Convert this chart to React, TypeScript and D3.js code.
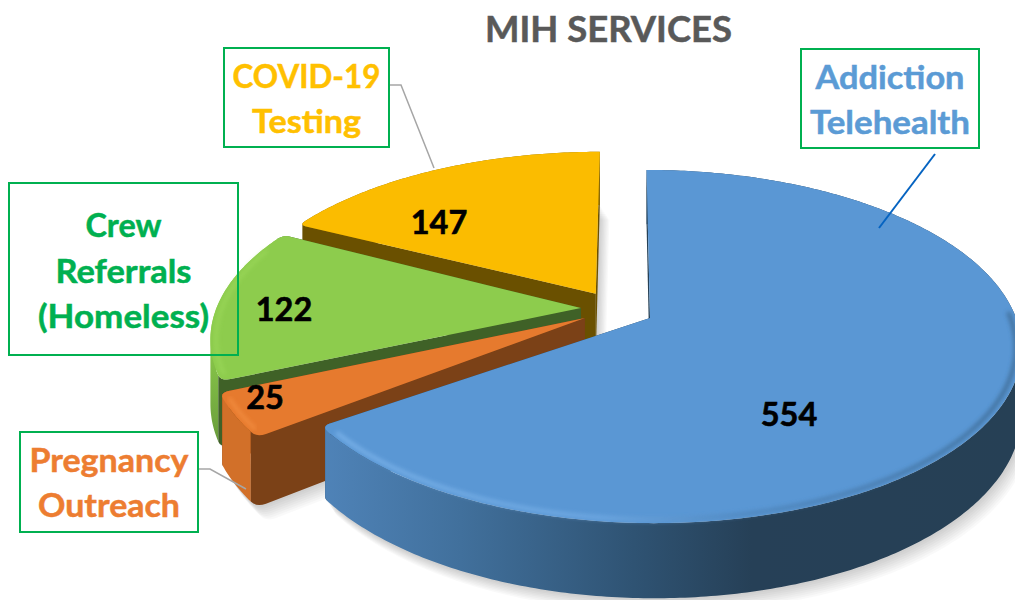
// App.tsx - exploded 3D pie, MIH services
import React from 'react';
import * as d3 from 'd3';

const categories = ['Addiction Telehealth', 'Pregnancy Outreach', 'Crew Referrals (Homeless)', 'COVID-19 Testing'];
const values = [554, 25, 122, 147];
const topColors = ['#5a97d4', '#e67a2e', '#8dcc4d', '#fbbc00'];
const sideColors = ['#264055', '#7b4117', '#3f6127', '#6a5000'];

// how far each slice is pulled out, in disk units (x, depth), and its radius
const explode = [[0, 0], [-0.178, 0], [-0.19, 0.058], [-0.15, 0.145]];
const radii = [1, 1.01, 1.005, 1.0];
// perspective widens some slices a little, degrees added at each side
const anglePad = [[0, 0], [3.3, 0.5], [-0.5, 0], [1, 0]];

const labelLines = [['Addiction', 'Telehealth'], ['Pregnancy', 'Outreach'], ['Crew', 'Referrals', '(Homeless)'], ['COVID-19', 'Testing']];
const labelWidths = [[149, 160], [159, 142], [76, 136, 171], [148, 109]];
const labelColors = ['#5b9bd5', '#ed7d31', '#00b050', '#ffc000'];
const labelBoxes = [[801, 49, 178, 99], [20, 432, 178, 100], [9, 183, 229, 172], [224, 48, 165, 99]];
const labelBaselines = [[89, 134], [472, 517], [237, 283, 328], [88, 133]];
const valuePos = [[789, 414], [265, 397], [284, 309], [439, 222]];
const leaders = [
  { pts: [[935, 154], [879, 228]], color: '#0563c1', w: 2 },
  { pts: [[198, 469], [210, 469], [246, 489]], color: '#a6a6a6', w: 1.5 },
  { pts: [[389, 85], [401, 85], [434, 168]], color: '#a6a6a6', w: 1.5 },
];

const width = 1015;
const height = 600;

// perspective of the disk
const cx = 650;
const cy = 318;
const rx = 366;
const ry = 172;
const persp = 0.1615;
const skew = -4;
const depth = 63;

type Pt = [number, number];

const project = (u: number, v: number, level: number): Pt => {
  const d = 1 + persp * v;
  return [cx + (rx * u + skew * v) / d, cy - (ry * v) / d + (level * depth) / d];
};

const quad = (a: Pt, c: Pt, b: Pt): Pt[] =>
  d3.range(0, 1.001, 0.2).map((t) => [
    (1 - t) * (1 - t) * a[0] + 2 * t * (1 - t) * c[0] + t * t * b[0],
    (1 - t) * (1 - t) * a[1] + 2 * t * (1 - t) * c[1] + t * t * b[1],
  ] as Pt);

const lineGen = d3.line<Pt>();
const closed = (pts: Pt[]) => lineGen(pts) + 'Z';
const deg = (d: number) => (d * Math.PI) / 180;

const pie = d3.pie<number>().sort(null).startAngle(0).endAngle(2 * Math.PI);
const arcs = pie(values);

const outline = (i: number, level: number) => {
  const a0 = arcs[i].startAngle - deg(anglePad[i][0]);
  const a1 = arcs[i].endAngle + deg(anglePad[i][1]);
  const [ox, oy] = explode[i];
  const R = radii[i];
  const at = (a: number, r: number) => project(ox + R * r * Math.sin(a), oy + R * r * Math.cos(a), level);
  const d = deg(1.8);
  const sharp0 = a0 < 0.001;
  const sharp1 = a1 > 2 * Math.PI - 0.001;
  const first = sharp0 ? a0 : a0 + d;
  const last = sharp1 ? a1 : a1 - d;
  const cornerA = sharp0 ? [at(a0, 1)] : quad(at(a0, 0.975), at(a0, 1), at(first, 1));
  const cornerB = sharp1 ? [at(a1, 1)] : quad(at(last, 1), at(a1, 1), at(a1, 0.975));
  const arc = [...d3.range(first, last, 0.012), last].map((a) => at(a, 1));
  return { apex: at(a0, 0), cornerA, arc, cornerB };
};

// side wall swept between the top and the bottom outline, one positively wound quad per segment
const wall = (top: Pt[], bottom: Pt[]) =>
  d3.range(top.length - 1).map((k) => {
    const q = [top[k], top[k + 1], bottom[k + 1], bottom[k]] as Pt[];
    return closed(d3.polygonArea(q) < 0 ? q.reverse() : q);
  }).join('');

// soft rim along the front of a slice
const rimPath = (i: number, from: number, to: number) => {
  const [ox, oy] = explode[i];
  const R = radii[i] * 0.985;
  return lineGen(
    d3.range(from, to, 0.012).map((a) => project(ox + R * Math.sin(a), oy + R * Math.cos(a), 0))
  ) as string;
};
const rims = [
  { i: 0, from: deg(88), to: deg(233), stroke: 'url(#blueRim)', w: 4, op: 0.85 },
  { i: 1, from: deg(234), to: deg(245), stroke: '#f79446', w: 3, op: 0.8 },
  { i: 2, from: deg(248), to: deg(292), stroke: '#a0dc5e', w: 3, op: 0.7 },
];

const font = 'Lato, "Open Sans", sans-serif';

// stacked copies fade out the ground shadow
const shadowSteps = d3.range(1, 9);

const Slice = ({ i }: { i: number }) => {
  const t = outline(i, 0);
  const b = outline(i, 1);
  const side = sideColors[i];
  const arcFill = i === 0 ? 'url(#blueWall)' : i === 1 ? '#d27029' : i === 2 ? 'url(#greenWall)' : '#8a6a00';
  const topPts = [t.apex, ...t.cornerA, ...t.arc, ...t.cornerB];
  const botPts = [b.apex, ...b.cornerA, ...b.arc, ...b.cornerB];
  return (
    <g>
      {shadowSteps.map((k) => (
        <path key={k} d={closed(botPts)} transform={`translate(${k * 1.2},${k * 1.8})`} fill="#000" opacity={0.022} />
      ))}
      <path d={wall([t.apex, ...[...t.cornerB].reverse()], [b.apex, ...[...b.cornerB].reverse()])} fill={side} />
      <path d={wall([...t.arc, ...t.cornerB], [...b.arc, ...b.cornerB])} fill={arcFill} />
      <path d={wall([t.apex, ...t.cornerA], [b.apex, ...b.cornerA])} fill={side} />
      <path d={closed(topPts)} fill={topColors[i]} />
    </g>
  );
};

export default function App() {
  return (
    <svg width={width} height={height} style={{ position: 'absolute', left: 0, top: 0, background: '#fff' }} fontFamily={font} fontWeight={700}>
      <defs>
        <filter id="soft" x="-5%" y="-5%" width="110%" height="110%">
          <feGaussianBlur stdDeviation="2" />
        </filter>
        <linearGradient id="blueWall" gradientUnits="userSpaceOnUse" x1="322" y1="0" x2="1015" y2="0">
          <stop offset="0" stopColor="#4f83b8" />
          <stop offset="0.2" stopColor="#41709c" />
          <stop offset="0.45" stopColor="#2f5373" />
          <stop offset="0.62" stopColor="#264057" />
          <stop offset="1" stopColor="#264055" />
        </linearGradient>
        <linearGradient id="blueRim" gradientUnits="userSpaceOnUse" x1="322" y1="0" x2="1015" y2="0">
          <stop offset="0" stopColor="#7fb6ec" />
          <stop offset="0.4" stopColor="#72abe4" />
          <stop offset="0.6" stopColor="#4f86bc" />
          <stop offset="1" stopColor="#3c6890" />
        </linearGradient>
        <linearGradient id="greenWall" gradientUnits="userSpaceOnUse" x1="0" y1="340" x2="0" y2="450">
          <stop offset="0" stopColor="#8bcb4b" />
          <stop offset="1" stopColor="#67993a" />
        </linearGradient>
      </defs>

      <text x={608.5} y={42} textAnchor="middle" fontSize={36} fill="#595959" stroke="#595959" strokeWidth={0.5} textLength={247} lengthAdjust="spacingAndGlyphs">MIH SERVICES</text>

      {[3, 2, 1, 0].map((i) => (
        <g key={categories[i]}>
          <Slice i={i} />
          {rims.filter((r) => r.i === i).map((r) => (
            <path key={r.from} d={rimPath(r.i, r.from, r.to)} fill="none" stroke={r.stroke} strokeWidth={r.w} opacity={r.op} filter="url(#soft)" />
          ))}
        </g>
      ))}

      {leaders.map((l, i) => (
        <path key={i} d={lineGen(l.pts as Pt[]) as string} fill="none" stroke={l.color} strokeWidth={l.w} />
      ))}

      {values.map((v, i) => (
        <text key={v} x={valuePos[i][0]} y={valuePos[i][1]} dy="0.36em" textAnchor="middle" fontSize={32.5} fill="#000" stroke="#000" strokeWidth={0.6}>{v}</text>
      ))}

      {categories.map((c, i) => {
        const [x, y, w, h] = labelBoxes[i];
        return (
          <g key={c}>
            <rect x={x} y={y} width={w} height={h} fill="none" stroke="#00b050" strokeWidth={2} />
            {labelLines[i].map((line, j) => (
              <text key={line} x={x + w / 2} y={labelBaselines[i][j]} textAnchor="middle" fontSize={33} fill={labelColors[i]} stroke={labelColors[i]} strokeWidth={0.5} textLength={labelWidths[i][j]} lengthAdjust="spacingAndGlyphs">{line}</text>
            ))}
          </g>
        );
      })}
    </svg>
  );
}
